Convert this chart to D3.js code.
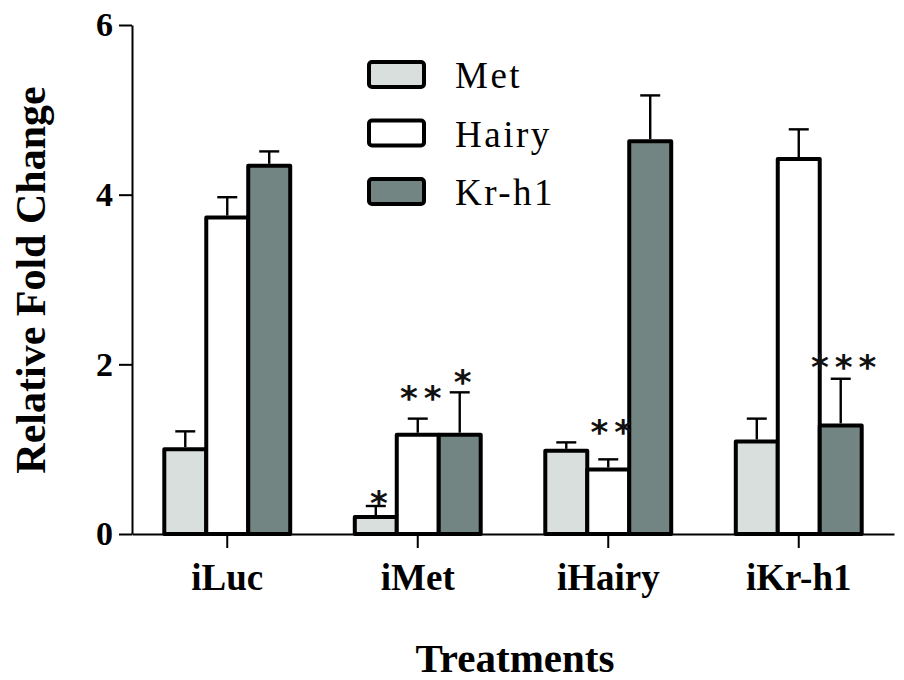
<!DOCTYPE html>
<html>
<head>
<meta charset="utf-8">
<script src="https://cdn.jsdelivr.net/npm/d3@7"></script>
<style>
  html, body { margin: 0; padding: 0; background: #fff; }
  svg { display: block; }
</style>
</head>
<body>
<svg id="chart" width="904" height="680"></svg>
<script>
// Treatments (x groups) and measured genes (series)
const groups = ["iLuc", "iMet", "iHairy", "iKr-h1"];
const series = ["Met", "Hairy", "Kr-h1"];

// Mean relative fold change per treatment, one array per gene
const metMean   = [1.00, 0.20, 0.98, 1.09];
const hairyMean = [3.73, 1.17, 0.76, 4.42];
const krh1Mean  = [4.34, 1.17, 4.63, 1.28];

// Standard error per treatment
const metErr   = [0.21, 0.13, 0.10, 0.27];
const hairyErr = [0.24, 0.19, 0.12, 0.35];
const krh1Err  = [0.17, 0.50, 0.54, 0.55];

// Significance marks: treatment, gene, label and the level (fold change) they sit at
const sigGroup = ["iMet", "iMet", "iMet", "iHairy", "iKr-h1"];
const sigSeries = ["Met", "Hairy", "Kr-h1", "Hairy", "Kr-h1"];
const sigLabel = ["*", "**", "*", "**", "***"];
const sigLevel = [0.47, 1.70, 1.89, 1.30, 2.07];

const yTicks = [0, 2, 4, 6];

const means = [metMean, hairyMean, krh1Mean];
const errs = [metErr, hairyErr, krh1Err];
const fills = { "Met": "#d8dfdd", "Hairy": "#ffffff", "Kr-h1": "#738583" };

const rows = [];
groups.forEach((g, gi) => {
  series.forEach((s, si) => {
    rows.push({ group: g, series: s, value: means[si][gi], err: errs[si][gi] });
  });
});

const serif = "'Liberation Serif', 'Times New Roman', Times, serif";
const svg = d3.select("#chart");

const x0 = d3.scaleBand().domain(groups).range([132, 894])
  .paddingInner(0.339).paddingOuter(0.1695);
const x1 = d3.scaleBand().domain(series).range([0, x0.bandwidth()]);
const y = d3.scaleLinear().domain([0, 6]).range([534, 25]);

// Bars
const gGroups = svg.append("g").selectAll("g")
  .data(groups).join("g")
  .attr("transform", d => `translate(${x0(d)},0)`);

gGroups.selectAll("rect")
  .data(g => rows.filter(r => r.group === g))
  .join("rect")
  .attr("x", d => x1(d.series))
  .attr("width", x1.bandwidth())
  .attr("y", d => y(d.value))
  .attr("height", d => y(0) - y(d.value))
  .attr("fill", d => fills[d.series])
  .attr("stroke", "#000")
  .attr("stroke-width", 4)
  .attr("stroke-linejoin", "round");

// Error bars (upper half only)
const capW = 20;
const eb = gGroups.selectAll("g.err")
  .data(g => rows.filter(r => r.group === g))
  .join("g").attr("class", "err")
  .attr("stroke", "#000").attr("stroke-width", 2.4);
eb.append("line")
  .attr("x1", d => x1(d.series) + x1.bandwidth() / 2)
  .attr("x2", d => x1(d.series) + x1.bandwidth() / 2)
  .attr("y1", d => y(d.value) - 2)
  .attr("y2", d => y(d.value + d.err));
eb.append("line")
  .attr("x1", d => x1(d.series) + x1.bandwidth() / 2 - capW / 2)
  .attr("x2", d => x1(d.series) + x1.bandwidth() / 2 + capW / 2)
  .attr("y1", d => y(d.value + d.err))
  .attr("y2", d => y(d.value + d.err));

// Significance asterisks, spaced out and centred over their bar
const starGap = 6;
svg.append("g").selectAll("text")
  .data(sigLabel.map((l, i) => ({ label: l, group: sigGroup[i], series: sigSeries[i], level: sigLevel[i] })))
  .join("text")
  .attr("x", d => x0(d.group) + x1(d.series) + x1.bandwidth() / 2 + 3 + starGap / 2)
  .attr("y", d => y(d.level))
  .attr("dy", "0.6em")
  .attr("text-anchor", "middle")
  .attr("font-family", "'DejaVu Sans', sans-serif")
  .attr("font-weight", "bold")
  .attr("font-size", 34)
  .attr("letter-spacing", starGap)
  .attr("fill", "#111")
  .text(d => d.label);

// Y axis
const yAxis = svg.append("g")
  .attr("transform", `translate(${x0.range()[0]},0)`)
  .call(d3.axisLeft(y).tickValues(yTicks).tickFormat(d3.format("d")).tickSize(13).tickPadding(6).tickSizeOuter(0));
yAxis.select(".domain").attr("stroke-width", 2);
yAxis.selectAll(".tick line").attr("stroke-width", 2);
yAxis.selectAll(".tick text")
  .attr("font-family", serif).attr("font-weight", "bold")
  .attr("font-size", 34).attr("fill", "#000");

// X axis
const xAxis = svg.append("g")
  .attr("transform", `translate(0,${y(0)})`)
  .call(d3.axisBottom(x0).tickSize(14).tickSizeOuter(0));
xAxis.select(".domain").attr("stroke-width", 2);
xAxis.selectAll(".tick line").attr("stroke-width", 2);
xAxis.selectAll(".tick text")
  .attr("font-family", serif).attr("font-weight", "bold")
  .attr("font-size", 37).attr("fill", "#000")
  .attr("y", 56).attr("dy", 0);

// Axis titles
svg.append("text")
  .attr("transform", "translate(45,280) rotate(-90)")
  .attr("text-anchor", "middle")
  .attr("font-family", serif).attr("font-weight", "bold")
  .attr("font-size", 42)
  .text("Relative Fold Change");

svg.append("text")
  .attr("x", 515).attr("y", 672)
  .attr("text-anchor", "middle")
  .attr("font-family", serif).attr("font-weight", "bold")
  .attr("font-size", 41)
  .text("Treatments");

// Legend
const legend = svg.append("g").selectAll("g")
  .data(series).join("g")
  .attr("transform", (d, i) => `translate(369,${62 + i * 58.5})`);
legend.append("rect")
  .attr("width", 55).attr("height", 25).attr("rx", 3)
  .attr("fill", d => fills[d])
  .attr("stroke", "#000").attr("stroke-width", 4);
legend.append("text")
  .attr("x", 86).attr("y", 26)
  .attr("font-family", serif).attr("font-size", 37)
  .attr("letter-spacing", 2.5)
  .text(d => d);
</script>
</body>
</html>
